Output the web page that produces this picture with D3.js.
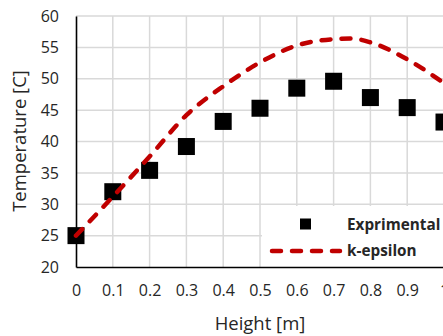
<!DOCTYPE html>
<html>
<head>
<meta charset="utf-8">
<script src="https://cdn.jsdelivr.net/npm/d3@7"></script>
<style>
  html, body { margin: 0; padding: 0; background: #fff; }
  svg { display: block; font-family: "Open Sans", "Noto Sans", sans-serif; }
</style>
</head>
<body>
<svg id="chart" width="443" height="336"></svg>
<script>
// Measured temperatures along the height
const heights = [0, 0.1, 0.2, 0.3, 0.4, 0.5, 0.6, 0.7, 0.8, 0.9, 1.0];
const experimental = [25.0, 32.0, 35.4, 39.2, 43.2, 45.3, 48.5, 49.6, 47.0, 45.4, 43.1];
// k-epsilon model prediction
const modelHeights = [0, 0.1, 0.2, 0.3, 0.4, 0.5, 0.6, 0.7, 0.75, 0.8, 0.9, 1.0];
const kEpsilon = [25.0, 31.2, 37.6, 44.2, 48.8, 52.6, 55.3, 56.3, 56.4, 55.8, 53.1, 49.3];
// Axis ticks
const xTicks = [0, 0.1, 0.2, 0.3, 0.4, 0.5, 0.6, 0.7, 0.8, 0.9, 1];
const yTicks = [20, 25, 30, 35, 40, 45, 50, 55, 60];

const svg = d3.select("#chart");
const x = d3.scaleLinear().domain([0, 1]).range([76, 444]);
const y = d3.scaleLinear().domain([20, 60]).range([267, 16]);
const textColor = "#262626";

// Gridlines
svg.append("g").selectAll("line").data(xTicks.slice(1)).join("line")
  .attr("x1", d => x(d)).attr("x2", d => x(d))
  .attr("y1", y(20)).attr("y2", y(60))
  .attr("stroke", "#d9d9d9").attr("stroke-width", 1.5);
svg.append("g").selectAll("line").data(yTicks.slice(1)).join("line")
  .attr("x1", x(0)).attr("x2", x(1))
  .attr("y1", d => y(d)).attr("y2", d => y(d))
  .attr("stroke", "#d9d9d9").attr("stroke-width", 1.5);

// Legend background hides gridlines beneath it
svg.append("rect")
  .attr("x", 262).attr("y", 206).attr("width", 200).attr("height", y(20) - 206)
  .attr("fill", "#fff");

// Axes
const xAxis = svg.append("g").attr("transform", `translate(0,${y(20)})`)
  .call(d3.axisBottom(x).tickValues(xTicks).tickSize(0).tickPadding(18)
    .tickFormat(d => d3.format("")(+d.toFixed(1))));
const yAxis = svg.append("g").attr("transform", `translate(${x(0)},0)`)
  .call(d3.axisLeft(y).tickValues(yTicks).tickSize(0).tickPadding(17));
[xAxis, yAxis].forEach(a => {
  a.select(".domain").attr("stroke", "#000").attr("stroke-width", 1.6);
  a.selectAll("text").attr("font-size", 16).attr("fill", textColor)
    .attr("font-family", "Open Sans, sans-serif");
});

// Axis titles
svg.append("text").attr("x", 260).attr("y", 330).attr("text-anchor", "middle")
  .attr("font-size", 18.5).attr("fill", textColor).text("Height [m]");
svg.append("text").attr("transform", "translate(26,141) rotate(-90)")
  .attr("text-anchor", "middle").attr("font-size", 18.5).attr("fill", textColor)
  .text("Temperature [C]");

// Experimental markers
const sq = 17;
svg.append("g").selectAll("rect").data(heights).join("rect")
  .attr("x", (d) => x(d) - sq / 2)
  .attr("y", (d, i) => y(experimental[i]) - sq / 2)
  .attr("width", sq).attr("height", sq).attr("fill", "#000");

// k-epsilon curve
const line = d3.line()
  .x((d, i) => x(modelHeights[i]))
  .y(d => y(d))
  .curve(d3.curveMonotoneX);
svg.append("path").datum(kEpsilon)
  .attr("d", line).attr("fill", "none")
  .attr("stroke", "#c00000").attr("stroke-width", 4.5)
  .attr("stroke-linecap", "round").attr("stroke-dasharray", "9,11");

// Legend
svg.append("rect").attr("x", 300).attr("y", 218.5).attr("width", 11).attr("height", 11).attr("fill", "#000");
svg.append("text").attr("x", 347).attr("y", 230).attr("font-size", 15.3).attr("font-weight", "bold")
  .attr("fill", textColor).text("Exprimental");
svg.append("line").attr("x1", 272).attr("x2", 340).attr("y1", 251).attr("y2", 251)
  .attr("stroke", "#c00000").attr("stroke-width", 4.5)
  .attr("stroke-linecap", "round").attr("stroke-dasharray", "9,11");
svg.append("text").attr("x", 347).attr("y", 256).attr("font-size", 15.3).attr("font-weight", "bold")
  .attr("fill", textColor).text("k-epsilon");
</script>
</body>
</html>
